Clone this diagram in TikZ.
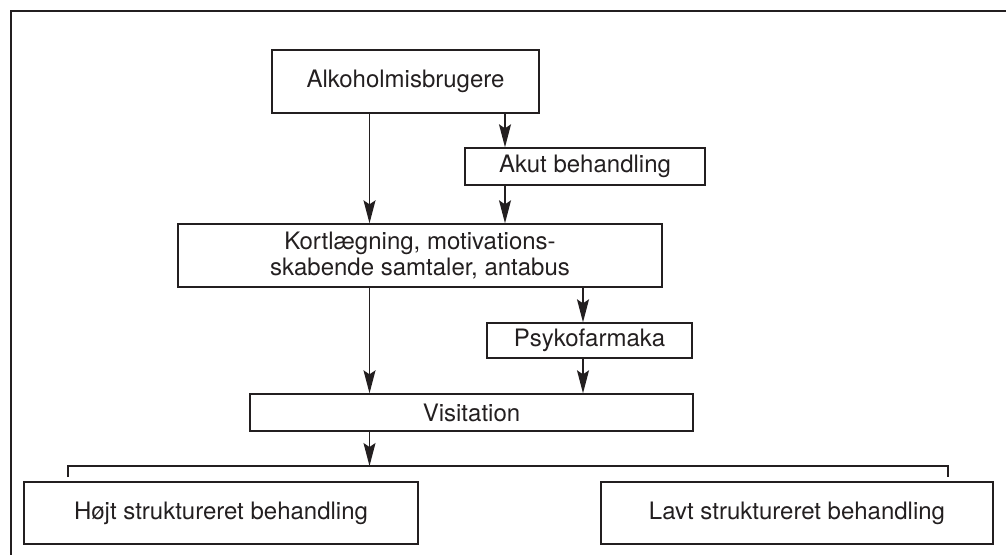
\documentclass[tikz,border=0pt]{standalone}
\usepackage{fontspec}
\setmainfont{TeX Gyre Heros}
\usepackage{tikz}
\usetikzlibrary{arrows.meta}
\definecolor{ink}{HTML}{231F20}

\begin{document}
\begin{tikzpicture}[x=0.5pt, y=-0.5pt,
  box/.style={draw=ink, line width=0.7pt, inner sep=0, align=center, text=ink,
              font=\fontsize{12}{13}\selectfont},
  frame/.style={draw=ink, line width=1.1pt},
  arr/.style={draw=ink, line width=0.7pt, -{Stealth[length=11.5pt, width=6pt, inset=2pt]}},
  link/.style={draw=ink, line width=0.7pt}]
\useasboundingbox (0,0) rectangle (1006,554);
\draw[frame] (11,570) |- (1020,11);
\node[box, minimum width=133.5pt, minimum height=31.5pt] (alk) at (405.5,81.5) {Alkoholmisbrugere};
\node[box, minimum width=120pt, minimum height=18.5pt] (akut) at (585,166.5) {Akut behandling};
\node[box, minimum width=242pt, minimum height=31.5pt] (kort) at (420,255.5)
  {Kortlægning, motivations-\\skabende samtaler, antabus};
\node[box, minimum width=102.5pt, minimum height=17.5pt] (psyk) at (589.5,340.5) {Psykofarmaka};
\node[box, minimum width=221.5pt, minimum height=18.5pt] (visit) at (471.5,412.5) {Visitation};
\node[box, minimum width=197pt, minimum height=31pt] (hojt) at (221,513) {Højt struktureret behandling};
\node[box, minimum width=196pt, minimum height=31pt] (lavt) at (797,513) {Lavt struktureret behandling};
\coordinate (colA) at (369.5,0);
\coordinate (colB) at (505,0);
\coordinate (colC) at (583,0);
\coordinate (split) at (369.5,466);
\coordinate (tickL) at (68,477);
\coordinate (tickR) at (948,477);
\draw[arr] (alk.south -| colA) -- (kort.north -| colA);
\draw[arr] (alk.south -| colB) -- (akut.north -| colB);
\draw[arr] (akut.south -| colB) -- (kort.north -| colB);
\draw[arr] (kort.south -| colA) -- (visit.north -| colA);
\draw[arr] (kort.south -| colC) -- (psyk.north -| colC);
\draw[arr] (psyk.south -| colC) -- (visit.north -| colC);
\draw[arr] (visit.south -| colA) -- (split);
\draw[link] (tickL) |- (split) -| (tickR);
\end{tikzpicture}
\end{document}
